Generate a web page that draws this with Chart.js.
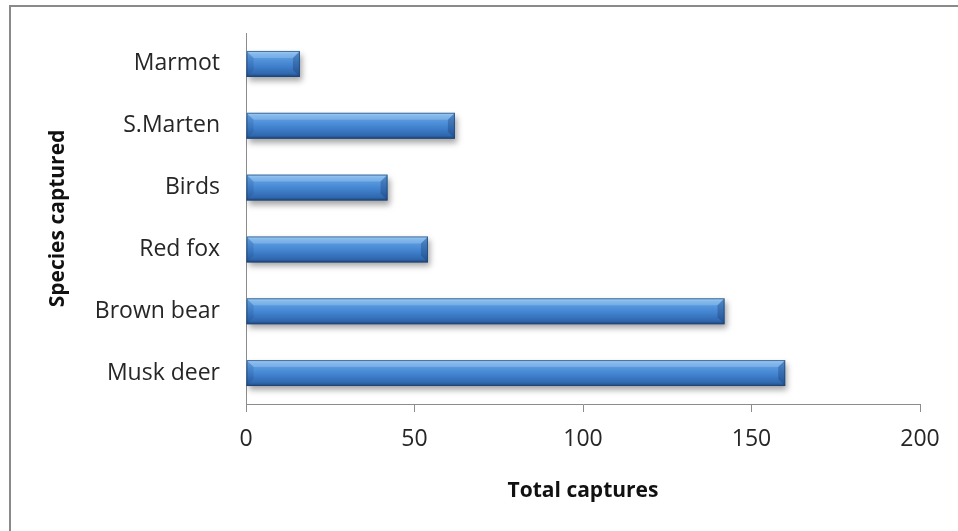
<!DOCTYPE html>
<html>
<head>
<meta charset="utf-8">
<title>Species captured</title>
<script src="https://cdn.jsdelivr.net/npm/chart.js@4.4.0/dist/chart.umd.min.js"></script>
<style>
  html, body { margin: 0; padding: 0; background: #fff; overflow: hidden; }
  #frame { position: absolute; left: 9px; top: 5px; width: 1000px; height: 600px;
           border-left: 2px solid #8a8a8a; border-top: 2px solid #8a8a8a; }
  #wrap { position: absolute; left: 0; top: 0; width: 958px; height: 531px; }
</style>
</head>
<body>
<div id="frame"></div>
<div id="wrap"><canvas id="chart" width="958" height="531"></canvas></div>
<script>
// data
const species = ['Marmot', 'S.Marten', 'Birds', 'Red fox', 'Brown bear', 'Musk deer'];
const captures = [16, 62, 42, 54, 142, 160];
const xTicks = [0, 50, 100, 150, 200];

const FONT = "'Open Sans', 'DejaVu Sans', sans-serif";

// blue bar gradient, top light -> bottom dark
function barFill(context) {
  const chart = context.chart;
  const y = chart.scales.y;
  if (!y || y.top === undefined) return '#4f8fd6';
  const c = y.getPixelForValue(context.dataIndex);
  const h = 13;
  const g = chart.ctx.createLinearGradient(0, c - h, 0, c + h);
  g.addColorStop(0, '#8cc4f4');
  g.addColorStop(0.12, '#6aaae8');
  g.addColorStop(0.3, '#5597de');
  g.addColorStop(0.6, '#3f7fcb');
  g.addColorStop(0.88, '#2f67ad');
  g.addColorStop(1, '#1d4377');
  return g;
}

// soft shadow under bars + little bevel on the ends
const barLook = {
  id: 'barLook',
  beforeDatasetsDraw(chart) {
    const ctx = chart.ctx;
    ctx.save();
    ctx.shadowColor = 'rgba(0,0,0,0.35)';
    ctx.shadowBlur = 6;
    ctx.shadowOffsetX = 2;
    ctx.shadowOffsetY = 4;
  },
  afterDatasetsDraw(chart) {
    const ctx = chart.ctx;
    ctx.restore();
    const meta = chart.getDatasetMeta(0);
    meta.data.forEach(bar => {
      const top = bar.y - bar.height / 2;
      const bot = bar.y + bar.height / 2;
      const l = bar.base, r = bar.x, b = 7;
      ctx.save();
      // left facet
      ctx.fillStyle = 'rgba(20,50,100,0.15)';
      ctx.beginPath();
      ctx.moveTo(l, top); ctx.lineTo(l + b, top + b); ctx.lineTo(l + b, bot - b); ctx.lineTo(l, bot);
      ctx.closePath(); ctx.fill();
      // right facet
      ctx.fillStyle = 'rgba(20,50,100,0.3)';
      ctx.beginPath();
      ctx.moveTo(r, top); ctx.lineTo(r - b, top + b); ctx.lineTo(r - b, bot - b); ctx.lineTo(r, bot);
      ctx.closePath(); ctx.fill();
      // top highlight
      ctx.fillStyle = 'rgba(255,255,255,0.18)';
      ctx.beginPath();
      ctx.moveTo(l, top); ctx.lineTo(r, top); ctx.lineTo(r - b, top + b); ctx.lineTo(l + b, top + b);
      ctx.closePath(); ctx.fill();
      ctx.strokeStyle = 'rgba(31,69,117,0.7)';
      ctx.lineWidth = 1;
      ctx.strokeRect(l + 0.5, top + 0.5, r - l - 1, bot - top - 1);
      ctx.restore();
    });
  }
};

const ctx = document.getElementById('chart').getContext('2d');
new Chart(ctx, {
  type: 'bar',
  data: {
    labels: species,
    datasets: [{
      label: 'Total captures',
      data: captures,
      backgroundColor: barFill,
      borderWidth: 0,
      barPercentage: 0.42,
      categoryPercentage: 1
    }]
  },
  options: {
    indexAxis: 'y',
    responsive: false,
    animation: false,
    layout: { padding: { left: 45, top: 33, right: 38, bottom: 27 } },
    plugins: {
      legend: { display: false },
      tooltip: { enabled: false }
    },
    scales: {
      x: {
        min: 0,
        max: 200,
        afterBuildTicks: scale => { scale.ticks = xTicks.map(v => ({ value: v })); },
        afterFit: scale => { scale.height = 100; },
        grid: { drawOnChartArea: false, drawTicks: true, tickLength: 8, color: '#8c8c8c' },
        border: { color: '#8c8c8c', width: 1 },
        ticks: { color: '#262626', padding: 14, maxRotation: 0, font: { family: FONT, size: 23 } },
        title: {
          display: true,
          text: 'Total captures',
          color: '#111',
          padding: 0,
          font: { family: FONT, size: 21, weight: 'bold' }
        }
      },
      y: {
        afterFit: scale => {
          scale.width = 201;
          scale.paddingTop = 0;
          scale.paddingBottom = 0;
        },
        grid: { drawOnChartArea: false, drawTicks: false },
        border: { color: '#8c8c8c', width: 1 },
        ticks: { color: '#262626', padding: 26, font: { family: FONT, size: 23 } },
        title: {
          display: true,
          text: 'Species captured',
          color: '#111',
          padding: 0,
          font: { family: FONT, size: 21, weight: 'bold' }
        }
      }
    }
  },
  plugins: [barLook]
});
</script>
</body>
</html>
